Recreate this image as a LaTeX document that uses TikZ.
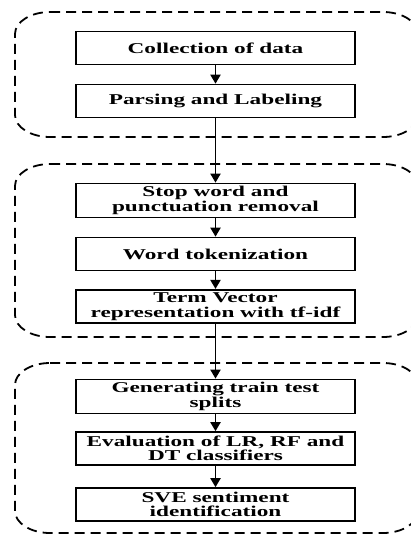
\documentclass[tikz,border=0pt]{standalone}
\usepackage{fontspec}
\setmainfont{Liberation Serif}[FakeStretch=1.55]
\usepackage{tikz}
\usetikzlibrary{arrows.meta}

\begin{document}
\begin{tikzpicture}[x=1pt, y=1pt,
    stepbox/.style={draw, line width=1.6pt, fill=white, minimum width=279pt, minimum height=33pt,
                    inner ysep=3pt, align=center, font=\bfseries\fontsize{15}{14.5}\selectfont},
    flow/.style={line width=1.9pt, -{Triangle[width=10pt,length=9pt]}},
    stage/.style={line width=1.8pt, dash pattern=on 10pt off 6pt}]
    \useasboundingbox (0,0) rectangle (410,-535);

    % dashed stage outlines (top/bottom)
    \foreach \ya/\yb in {-12/-137,-164/-337,-363/-533}{
        \draw[stage] (50,\ya) -- (383,\ya) arc[start angle=90, end angle=0, x radius=35pt, y radius=22pt]
            -- (418,\yb+22) arc[start angle=0, end angle=-90, x radius=35pt, y radius=22pt]
            -- (50,\yb) arc[start angle=-90, end angle=-180, x radius=35pt, y radius=22pt]
            -- (15,\ya-22) arc[start angle=180, end angle=90, x radius=35pt, y radius=22pt] -- cycle;
    }

    \node[stepbox] (collect) at (215.5,-48) {Collection of data};
    \node[stepbox] (parse) at (215.5,-101) {Parsing and Labeling};

    \node[stepbox] (stopword) at (215.5,-200.5) {Stop word and\\punctuation removal};
    \node[stepbox] (tokenize) at (215.5,-254) {Word tokenization};
    \node[stepbox] (tfidf) at (215.5,-306.5) {Term Vector\\representation with tf-idf};

    \node[stepbox] (split) at (215.5,-396.5) {Generating train test\\splits};
    \node[stepbox] (evaluate) at (215.5,-448.5) {Evaluation of LR, RF and\\DT classifiers};
    \node[stepbox] (identify) at (215.5,-504.5) {SVE sentiment\\identification};

    \draw[flow] (collect) -- (parse);
    \draw[flow] (parse) -- (stopword);
    \draw[flow] (stopword) -- (tokenize);
    \draw[flow] (tokenize) -- (tfidf);
    \draw[flow] (tfidf) -- (split);
    \draw[flow] (split) -- (evaluate);
    \draw[flow] (evaluate) -- (identify);
\end{tikzpicture}
\end{document}
